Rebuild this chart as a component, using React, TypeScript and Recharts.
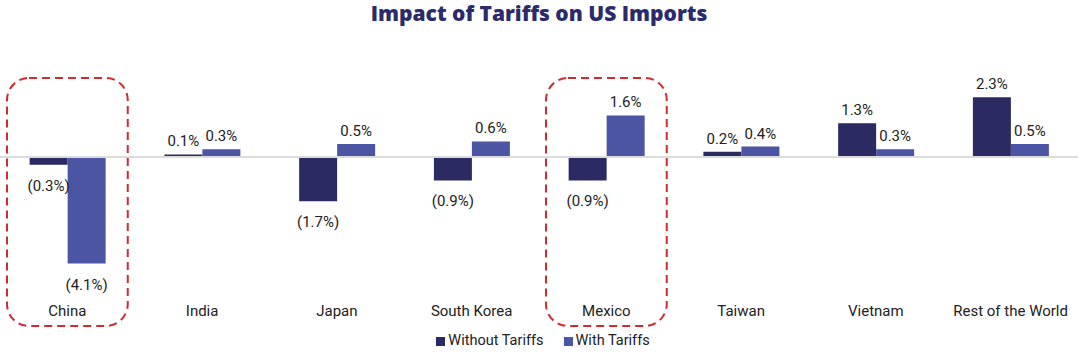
import React from 'react';
import {
  BarChart,
  Bar,
  XAxis,
  YAxis,
  Legend,
  LabelList,
  ReferenceLine,
  ReferenceArea
} from 'recharts';

const categories = ['China', 'India', 'Japan', 'South Korea', 'Mexico', 'Taiwan', 'Vietnam', 'Rest of the World'];
const withoutTariffs = [-0.3, 0.1, -1.7, -0.9, -0.9, 0.2, 1.3, 2.3];
const withTariffs = [-4.1, 0.3, 0.5, 0.6, 1.6, 0.4, 0.3, 0.5];
const highlighted = ['China', 'Mexico'];

const DARK = '#2b2a63';
const LIGHT = '#4b55a3';
const FONT = 'Roboto, "Noto Sans", sans-serif';

const data = categories.map((name, i) => ({
  name,
  without: withoutTariffs[i],
  with: withTariffs[i]
}));

const fmt = (v: number) => (v < 0 ? `(${Math.abs(v).toFixed(1)}%)` : `${v.toFixed(1)}%`);

const renderLabel = (props: any) => {
  const { x, y, width, height, value } = props;
  const top = Math.min(y, y + height);
  const bottom = Math.max(y, y + height);
  const ty = value < 0 ? bottom + 26 : top - 8;
  return (
    <text x={x + width / 2} y={ty} textAnchor="middle" fontSize={15} fill="#222" fontFamily={FONT}>
      {fmt(value)}
    </text>
  );
};

const renderBox = (props: any) => {
  const { x, y, width, height } = props;
  return (
    <rect
      x={x + 7}
      y={y}
      width={width - 14}
      height={height}
      rx={22}
      ry={22}
      fill="none"
      stroke="#d12b30"
      strokeWidth={2}
      strokeDasharray="8 5"
    />
  );
};

const renderLegend = () => (
  <div style={{ display: 'flex', justifyContent: 'center', height: 20, lineHeight: '20px', fontSize: 14.5, color: '#222', fontFamily: FONT, paddingLeft: 8 }}>
    <span style={{ display: 'flex', alignItems: 'center', marginRight: 20 }}>
      <span style={{ width: 9, height: 9, background: DARK, marginRight: 3 }} />
      Without Tariffs
    </span>
    <span style={{ display: 'flex', alignItems: 'center' }}>
      <span style={{ width: 9, height: 9, background: LIGHT, marginRight: 3 }} />
      With Tariffs
    </span>
  </div>
);

export default function App() {
  return (
    <div style={{ position: 'absolute', left: 0, top: 0, width: 1078, height: 358, background: '#fff', fontFamily: FONT }}>
      <div style={{ position: 'absolute', left: 0, top: 0, width: 1078, textAlign: 'center', fontSize: 21, lineHeight: '27px', fontWeight: 800, color: '#2b2a6b', fontFamily: '"Open Sans", sans-serif' }}>
        Impact of Tariffs on US Imports
      </div>
      <BarChart
        width={1078}
        height={358}
        data={data}
        margin={{ top: 79, right: 0, left: 0, bottom: 7 }}
        barGap={0}
        barCategoryGap="22%"
      >
        <XAxis
          dataKey="name"
          axisLine={false}
          tickLine={false}
          tickSize={0}
          tickMargin={18}
          height={44}
          interval={0}
          tick={{ fontSize: 15, fill: '#222', fontFamily: FONT }}
        />
        <YAxis hide domain={[-5, 3]} />
        <ReferenceLine y={0} stroke="#dcdcdc" strokeWidth={2} />
        {highlighted.map((c) => (
          <ReferenceArea key={c} x1={c} x2={c} y1={-6.5} y2={3.04} ifOverflow="visible" shape={renderBox} />
        ))}
        <Bar dataKey="without" name="Without Tariffs" fill={DARK} isAnimationActive={false}>
          <LabelList dataKey="without" content={renderLabel} />
        </Bar>
        <Bar dataKey="with" name="With Tariffs" fill={LIGHT} isAnimationActive={false}>
          <LabelList dataKey="with" content={renderLabel} />
        </Bar>
        <Legend verticalAlign="bottom" content={renderLegend} />
      </BarChart>
    </div>
  );
}
